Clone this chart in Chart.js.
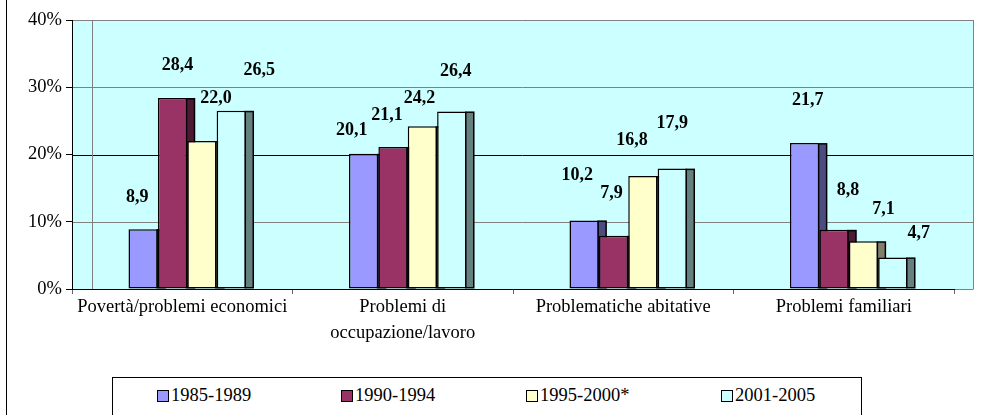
<!DOCTYPE html>
<html><head><meta charset="utf-8">
<script src="https://cdn.jsdelivr.net/npm/chart.js@4"></script>
<style>
html,body{margin:0;padding:0;background:#fff;}
#wrap{position:relative;width:986px;height:415px;overflow:hidden;}
#c{position:absolute;left:0;top:0;}
#frame{position:absolute;left:6px;top:0;width:0;height:415px;border-left:1px solid #000;}
#legend{position:absolute;left:112px;top:377px;width:748px;height:60px;border:1px solid #000;background:#fff;font-family:'Liberation Serif',serif;font-size:18.5px;color:#000;}
.item{position:absolute;top:7px;display:flex;align-items:center;white-space:nowrap;}
.sw{width:10px;height:10px;border:1px solid #000;margin-right:2px;}
</style>
</head><body>
<div id="wrap">
<canvas id="c" width="986" height="415"></canvas>
<div id="frame"></div>
<div id="legend"></div>
</div>
<script>
// ---- data ----
const categories = ['Povertà/problemi economici', ['Problemi di', 'occupazione/lavoro'], 'Problematiche abitative', 'Problemi familiari'];
const seriesNames = ['1985-1989', '1990-1994', '1995-2000*', '2001-2005'];
const v1985_1989 = [8.9, 20.1, 10.2, 21.7];
const v1990_1994 = [28.4, 21.1, 7.9, 8.8];
const v1995_2000 = [22.0, 24.2, 16.8, 7.1];
const v2001_2005 = [26.5, 26.4, 17.9, 4.7];
const yTickValues = [0, 10, 20, 30, 40];

// ---- styles ----
const faceColors = ['#9999FF', '#993366', '#FFFFCC', '#CCFFFF'];
const sideColors = ['#4C4C80', '#4D1A33', '#80806A', '#668080'];
// data label nudges relative to the bar top centre (Excel 3D placement)
const labelNudge = [
  [[-6,-32],[-12,-23],[-7,-45],[3,-43]],
  [[5,-33],[-6,-32],[-2,-43],[14,-39]],
  [[14,-43],[-3,-28],[-11,-36],[20,-32]],
  [[28,-40],[4,-40],[0,-45],[26,-24]]
];
const DEPTH = 19, SIDE = 8, SHIFT = 5, EDGE = 1.5;
const FONT = 'Liberation Serif';

const allSeries = [v1985_1989, v1990_1994, v1995_2000, v2001_2005];

function drawSide(ctx, el, i) {
  const p = el.getProps(['x', 'y', 'base', 'width'], true);
  const xr = p.x + p.width / 2 - EDGE / 2;
  const yt = p.y + EDGE / 2, yb = p.base - EDGE / 2;
  ctx.fillStyle = sideColors[i];
  ctx.fillRect(xr, yt, SIDE, yb - yt);
  ctx.strokeStyle = '#000';
  ctx.lineWidth = EDGE;
  ctx.strokeRect(xr, yt, SIDE, yb - yt);
}

const plugin3d = {
  id: 'plugin3d',
  beforeDraw(chart) {
    const {ctx, chartArea: a, scales: {y}} = chart;
    ctx.save();
    ctx.fillStyle = '#CCFFFF';
    ctx.fillRect(a.left, a.top, a.right + DEPTH - a.left, a.bottom - a.top);
    ctx.lineWidth = 1;
    yTickValues.forEach(v => {
      const py = Math.round(y.getPixelForValue(v)) + 0.5;
      ctx.strokeStyle = v === 20 ? '#000000' : '#808080';
      ctx.beginPath(); ctx.moveTo(a.left, py); ctx.lineTo(a.right + DEPTH, py); ctx.stroke();
    });
    ctx.strokeStyle = '#808080';
    ctx.beginPath();
    ctx.moveTo(a.left + 20.5, a.top); ctx.lineTo(a.left + 20.5, a.bottom);
    ctx.moveTo(a.right + DEPTH + 0.5, a.top); ctx.lineTo(a.right + DEPTH + 0.5, a.bottom + 0.5);
    ctx.stroke();
    ctx.restore();
  },
  // bars are drawn below, in series order, so that each bar hides the side face of the previous one
  beforeDatasetDraw() { return false; },
  afterDatasetsDraw(chart) {
    const ctx = chart.ctx;
    const metas = chart.data.datasets.map((d, i) => chart.getDatasetMeta(i));
    ctx.save();
    ctx.translate(SHIFT, 0);
    categories.forEach((c, j) => {
      metas.forEach((meta, i) => {
        const el = meta.data[j];
        el.draw(ctx);
        drawSide(ctx, el, i);
      });
    });
    ctx.restore();

    ctx.save();
    ctx.font = 'bold 18px "' + FONT + '"';
    ctx.fillStyle = '#000';
    ctx.textAlign = 'center';
    ctx.textBaseline = 'middle';
    chart.data.datasets.forEach((ds, i) => {
      metas[i].data.forEach((el, j) => {
        const p = el.getProps(['x', 'y'], true);
        const txt = ds.data[j].toFixed(1).replace('.', ',');
        const n = labelNudge[i][j];
        ctx.fillText(txt, p.x + SHIFT + n[0], p.y + n[1]);
      });
    });
    ctx.restore();
  }
};

new Chart(document.getElementById('c'), {
  type: 'bar',
  data: {
    labels: categories,
    datasets: seriesNames.map((name, i) => ({
      label: name,
      data: allSeries[i],
      backgroundColor: faceColors[i],
      borderColor: '#000',
      borderWidth: EDGE,
      borderSkipped: false
    }))
  },
  options: {
    responsive: false,
    animation: false,
    devicePixelRatio: 1,
    layout: {padding: {left: 0, right: 32, top: 20, bottom: 0}},
    plugins: {legend: {display: false}, tooltip: {enabled: false}},
    datasets: {bar: {categoryPercentage: 0.533, barPercentage: 1}},
    scales: {
      x: {
        grid: {display: true, drawOnChartArea: false, tickLength: 5, color: '#666', offset: true},
        border: {color: '#000'},
        ticks: {font: {family: FONT, size: 18.5, lineHeight: 1.4}, color: '#000', padding: 0, maxRotation: 0, autoSkip: false},
        afterFit(s) { s.height = 126; }
      },
      y: {
        min: 0, max: 40,
        afterBuildTicks(s) { s.ticks = yTickValues.map(v => ({value: v})); },
        ticks: {callback: v => v + '%', font: {family: FONT, size: 18.5}, color: '#000', padding: 4},
        grid: {drawOnChartArea: false, tickLength: 6, color: '#000'},
        border: {color: '#000'},
        afterFit(s) { s.width = 72; }
      }
    }
  },
  plugins: [plugin3d]
});

// legend
const legendLeft = [44, 228, 413, 608];
const lg = document.getElementById('legend');
seriesNames.forEach((name, i) => {
  const it = document.createElement('div');
  it.className = 'item';
  it.style.left = legendLeft[i] + 'px';
  const sw = document.createElement('span');
  sw.className = 'sw';
  sw.style.background = faceColors[i];
  const t = document.createElement('span');
  t.textContent = name;
  it.appendChild(sw); it.appendChild(t);
  lg.appendChild(it);
});
</script>
</body></html>
